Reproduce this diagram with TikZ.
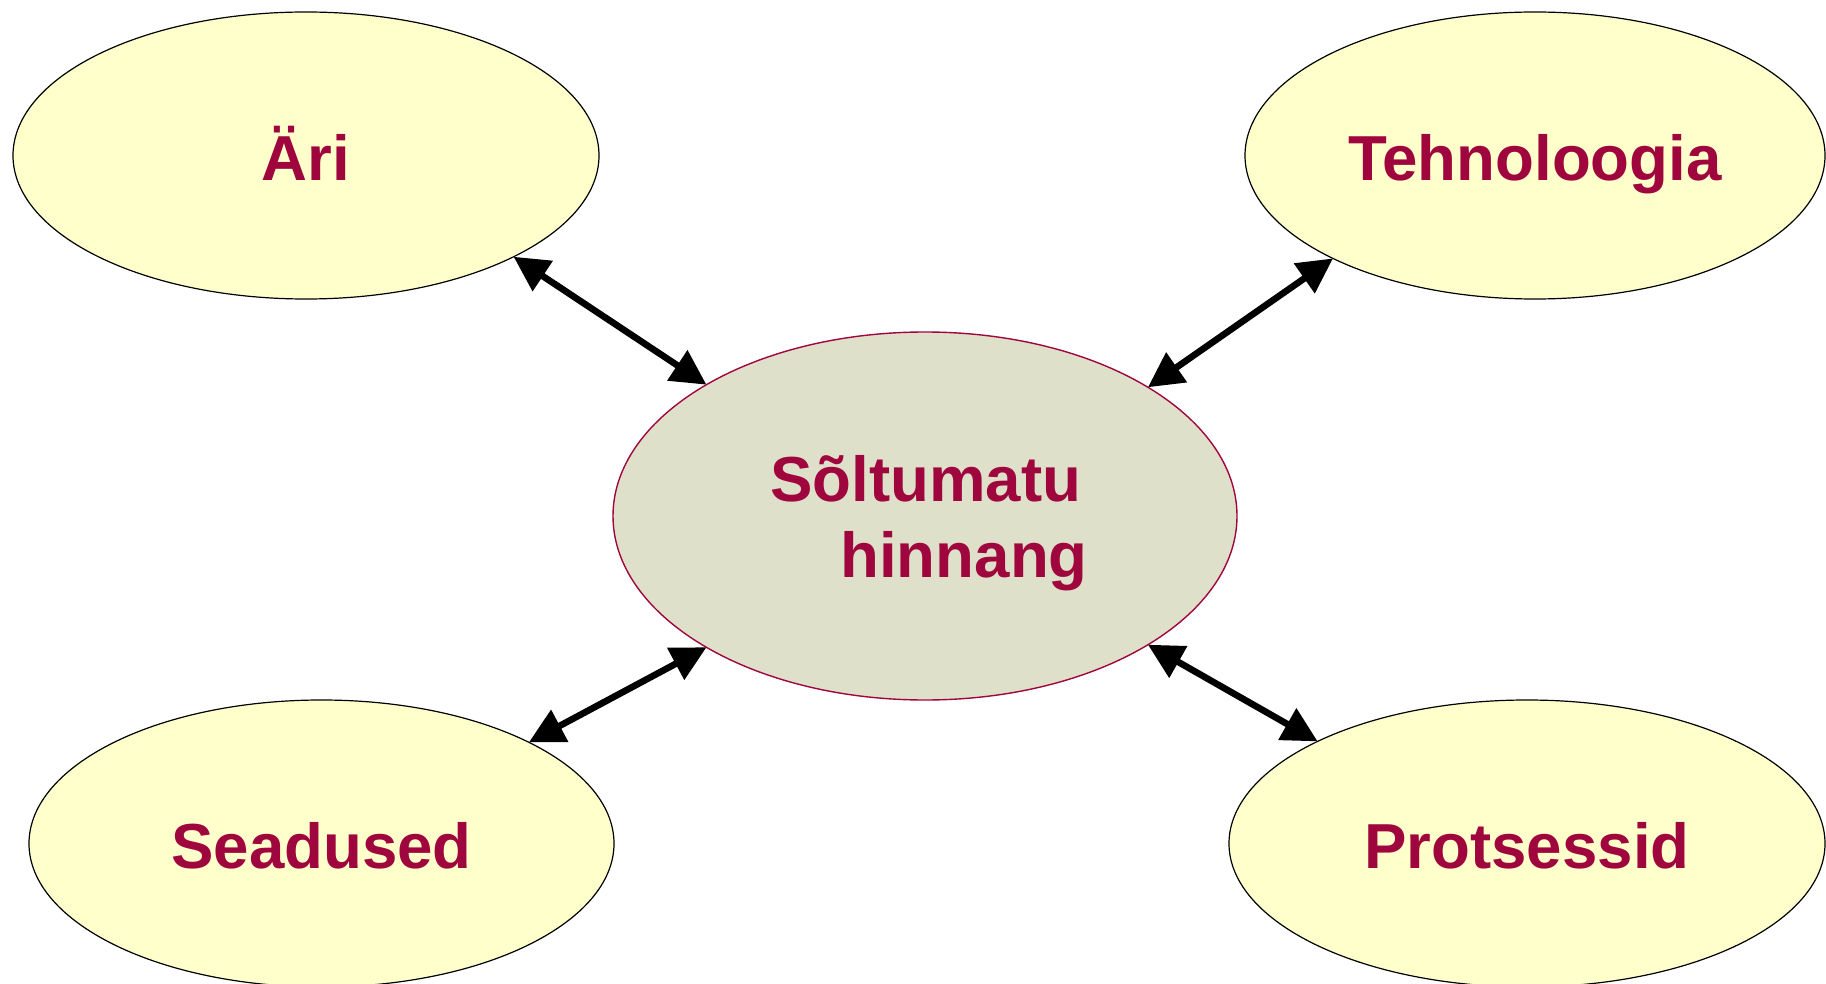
\documentclass[tikz,border=0pt]{standalone}
\usepackage{fontspec}
\setmainfont{Liberation Sans}
\usetikzlibrary{arrows.meta,shapes.geometric}
\definecolor{crim}{HTML}{A0063E}
\definecolor{pale}{HTML}{FFFFCC}
\definecolor{sage}{HTML}{DFE0C9}
\begin{document}
\begin{tikzpicture}[x=0.5pt,y=-0.5pt,
  bigfont/.style={font=\bfseries\fontsize{31.8}{38}\selectfont},
  bubble/.style={ellipse,draw=black,line width=0.6pt,fill=pale,inner sep=0pt,outer sep=0pt,
    minimum height=143.5pt,text=crim,bigfont,text height=25pt,text depth=0pt},
  hub/.style={ellipse,draw=crim,line width=0.7pt,fill=sage,inner sep=0pt,outer sep=0pt,
    minimum width=312pt,minimum height=184pt},
  hubtext/.style={text=crim,bigfont,inner sep=0pt,anchor=base west},
  link/.style={line width=3.3pt,
    {Triangle[length=17.5pt,width=17.5pt]}-{Triangle[length=17.5pt,width=17.5pt]}}]
\useasboundingbox (0,0) rectangle (1826,984);
\clip (0,0) rectangle (1826,984);
\fill[white] (0,0) rectangle (1826,984);

\node[bubble,minimum width=293pt] (ari) at (306,155.5) {Äri};
\node[bubble,minimum width=290pt] (teh) at (1535,155.5) {Tehnoloogia};
\node[bubble,minimum width=292.5pt] (sea) at (321.5,843.5) {Seadused};
\node[bubble,minimum width=298pt] (pro) at (1527,843.5) {Protsessid};
\node[hub] (c) at (925,516) {};
\node[hubtext] (c1) at ([xshift=-77.5pt,yshift=7.5pt]c.center) {Sõltumatu};
\node[hubtext] (c2) at ([xshift=-42.5pt,yshift=-30.5pt]c.center) {hinnang};

\draw[link] (ari.-26.3) -- (c.149.6);
\draw[link] (teh.-153.6) -- (c.30.5);
\draw[link] (sea.26.1) -- (c.-149.6);
\draw[link] (pro.154.2) -- (c.-30.5);
\end{tikzpicture}
\end{document}
